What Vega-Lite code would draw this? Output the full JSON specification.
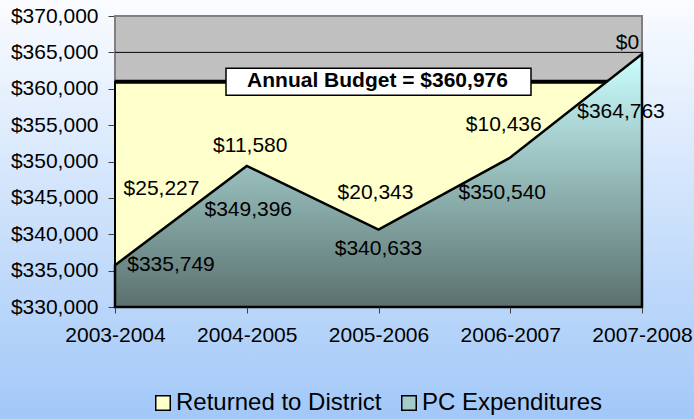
{
  "$schema": "https://vega.github.io/schema/vega-lite/v6.json",
  "width": 694,
  "height": 419,
  "autosize": {"type": "none"},
  "padding": 0,
  "datasets": {
    "main": [
      {"year": "2003-2004", "pc": 335749, "returned": 25227},
      {"year": "2004-2005", "pc": 349396, "returned": 11580},
      {"year": "2005-2006", "pc": 340633, "returned": 20343},
      {"year": "2006-2007", "pc": 350540, "returned": 10436},
      {"year": "2007-2008", "pc": 364763, "returned": 0}
    ],
    "frame": [{"from": "2003-2004", "to": "2007-2008", "lo": 330000, "hi": 370000}],
    "budget": [{"series": "Returned to District", "from": "2003-2004", "to": "2007-2008", "at": "2005-2006", "lo": 330000, "budget": 360976, "label": "Annual Budget = $360,976"}],
    "grid": [
      {"g": 335000, "from": "2003-2004", "to": "2007-2008"},
      {"g": 340000, "from": "2003-2004", "to": "2007-2008"},
      {"g": 345000, "from": "2003-2004", "to": "2007-2008"},
      {"g": 350000, "from": "2003-2004", "to": "2007-2008"},
      {"g": 355000, "from": "2003-2004", "to": "2007-2008"},
      {"g": 360000, "from": "2003-2004", "to": "2007-2008"},
      {"g": 365000, "from": "2003-2004", "to": "2007-2008"}
    ]
  },
  "config": {
    "view": {
      "stroke": null,
      "fill": {
        "gradient": "linear", "x1": 0, "y1": 0, "x2": 0, "y2": 1,
        "stops": [{"offset": 0, "color": "#FAFCFF"}, {"offset": 1, "color": "#A2C8F8"}]
      }
    },
    "font": "Liberation Sans",
    "text": {"font": "Liberation Sans", "fontSize": 21, "color": "#000000"}
  },
  "layer": [
    {
      "data": {"name": "frame"},
      "mark": {"type": "rect", "fill": "#C0C0C0", "stroke": "#808080", "strokeWidth": 2},
      "encoding": {
        "x": {
          "field": "from", "type": "ordinal",
          "scale": {"type": "point", "domain": ["2003-2004", "2004-2005", "2005-2006", "2006-2007", "2007-2008"], "range": [115, 642], "padding": 0},
          "axis": {"orient": "bottom", "offset": -112, "domain": false, "tickSize": 6, "tickColor": "#404040", "labelPadding": 11, "labelAngle": 0, "labelFontSize": 21, "labelFont": "Liberation Sans", "labelColor": "#000000", "title": null}
        },
        "x2": {"field": "to"},
        "y": {
          "field": "lo", "type": "quantitative",
          "scale": {"domain": [330000, 370000], "range": [307, 16], "nice": false, "zero": false},
          "axis": {"orient": "left", "offset": -115, "values": [330000, 335000, 340000, 345000, 350000, 355000, 360000, 365000, 370000], "format": "$,d", "domain": false, "grid": false, "tickSize": 7, "tickColor": "#404040", "labelPadding": 10, "labelFontSize": 21, "labelFont": "Liberation Sans", "labelColor": "#000000", "labelFlush": false, "labelOverlap": false, "title": null}
        },
        "y2": {"field": "hi"}
      }
    },
    {
      "data": {"name": "grid"},
      "mark": {"type": "rule", "color": "#000000", "strokeWidth": 1},
      "encoding": {
        "x": {"field": "from", "type": "ordinal"},
        "x2": {"field": "to"},
        "y": {"field": "g", "type": "quantitative"}
      }
    },
    {
      "data": {"name": "budget"},
      "mark": {"type": "rect", "stroke": "#000000", "strokeWidth": 2},
      "encoding": {
        "x": {"field": "from", "type": "ordinal"},
        "x2": {"field": "to"},
        "y": {"field": "lo", "type": "quantitative"},
        "y2": {"field": "budget"},
        "fill": {
          "field": "series", "type": "nominal",
          "scale": {"domain": ["Returned to District", "PC Expenditures"], "range": ["#FFFFCC", "#A3CBCA"]},
          "legend": {
            "orient": "none", "legendX": 151, "legendY": 391, "direction": "horizontal", "title": null,
            "symbolType": "square", "symbolSize": 210, "symbolStrokeColor": "#000000", "symbolStrokeWidth": 1.5, "symbolOpacity": 1,
            "labelFontSize": 24, "labelFont": "Liberation Sans", "labelColor": "#000000", "labelOffset": 1, "labelLimit": 0,
            "columnPadding": 15, "padding": 0
          }
        }
      }
    },
    {
      "data": {"name": "budget"},
      "mark": {"type": "rule", "color": "#000000", "strokeWidth": 4},
      "encoding": {
        "x": {"field": "from", "type": "ordinal"},
        "x2": {"field": "to"},
        "y": {"field": "budget", "type": "quantitative"}
      }
    },
    {
      "data": {"name": "main"},
      "transform": [{"calculate": "330000", "as": "base"}],
      "mark": {
        "type": "area", "interpolate": "linear", "stroke": "#000000", "strokeWidth": 2.5, "opacity": 1,
        "fill": {
          "gradient": "linear", "x1": 0, "y1": 0, "x2": 0, "y2": 1,
          "stops": [{"offset": 0, "color": "#CCFFFF"}, {"offset": 1, "color": "#5A716E"}]
        }
      },
      "encoding": {
        "x": {"field": "year", "type": "ordinal"},
        "y": {"field": "pc", "type": "quantitative"},
        "y2": {"field": "base"}
      }
    },
    {
      "data": {"name": "budget"},
      "mark": {"type": "point", "shape": "M-1,-0.0885H1V0.0885H-1Z", "size": 93025, "filled": true, "fill": "#FFFFFF", "fillOpacity": 1, "opacity": 1, "stroke": "#000000", "strokeWidth": 1.5},
      "encoding": {
        "x": {"field": "at", "type": "ordinal"},
        "y": {"field": "budget", "type": "quantitative"}
      }
    },
    {
      "data": {"name": "budget"},
      "mark": {"type": "text", "fontWeight": "bold", "fontSize": 21, "dx": -1, "dy": -1},
      "encoding": {
        "x": {"field": "at", "type": "ordinal"},
        "y": {"field": "budget", "type": "quantitative"},
        "text": {"field": "label", "type": "nominal"}
      }
    },
    {"data": {"name": "main"}, "transform": [{"filter": "datum.year === '2003-2004'"}], "mark": {"type": "text", "dx": 56, "dy": 0},
     "encoding": {"x": {"field": "year", "type": "ordinal"}, "y": {"field": "pc", "type": "quantitative"}, "text": {"field": "pc", "type": "quantitative", "format": "$,d"}}},
    {"data": {"name": "main"}, "transform": [{"filter": "datum.year === '2004-2005'"}], "mark": {"type": "text", "dx": 1.5, "dy": 44},
     "encoding": {"x": {"field": "year", "type": "ordinal"}, "y": {"field": "pc", "type": "quantitative"}, "text": {"field": "pc", "type": "quantitative", "format": "$,d"}}},
    {"data": {"name": "main"}, "transform": [{"filter": "datum.year === '2005-2006'"}], "mark": {"type": "text", "dx": 0, "dy": 19},
     "encoding": {"x": {"field": "year", "type": "ordinal"}, "y": {"field": "pc", "type": "quantitative"}, "text": {"field": "pc", "type": "quantitative", "format": "$,d"}}},
    {"data": {"name": "main"}, "transform": [{"filter": "datum.year === '2006-2007'"}], "mark": {"type": "text", "dx": -8, "dy": 35.5},
     "encoding": {"x": {"field": "year", "type": "ordinal"}, "y": {"field": "pc", "type": "quantitative"}, "text": {"field": "pc", "type": "quantitative", "format": "$,d"}}},
    {"data": {"name": "main"}, "transform": [{"filter": "datum.year === '2007-2008'"}], "mark": {"type": "text", "dx": -21, "dy": 58},
     "encoding": {"x": {"field": "year", "type": "ordinal"}, "y": {"field": "pc", "type": "quantitative"}, "text": {"field": "pc", "type": "quantitative", "format": "$,d"}}},
    {"data": {"name": "main"}, "transform": [{"filter": "datum.year === '2003-2004'"}], "mark": {"type": "text", "dx": 46.5, "dy": -76},
     "encoding": {"x": {"field": "year", "type": "ordinal"}, "y": {"field": "pc", "type": "quantitative"}, "text": {"field": "returned", "type": "quantitative", "format": "$,d"}}},
    {"data": {"name": "main"}, "transform": [{"filter": "datum.year === '2004-2005'"}], "mark": {"type": "text", "dx": 3.5, "dy": -20},
     "encoding": {"x": {"field": "year", "type": "ordinal"}, "y": {"field": "pc", "type": "quantitative"}, "text": {"field": "returned", "type": "quantitative", "format": "$,d"}}},
    {"data": {"name": "main"}, "transform": [{"filter": "datum.year === '2005-2006'"}], "mark": {"type": "text", "dx": -3, "dy": -36.5},
     "encoding": {"x": {"field": "year", "type": "ordinal"}, "y": {"field": "pc", "type": "quantitative"}, "text": {"field": "returned", "type": "quantitative", "format": "$,d"}}},
    {"data": {"name": "main"}, "transform": [{"filter": "datum.year === '2006-2007'"}], "mark": {"type": "text", "dx": -6.5, "dy": -32.5},
     "encoding": {"x": {"field": "year", "type": "ordinal"}, "y": {"field": "pc", "type": "quantitative"}, "text": {"field": "returned", "type": "quantitative", "format": "$,d"}}},
    {"data": {"name": "main"}, "transform": [{"filter": "datum.year === '2007-2008'"}], "mark": {"type": "text", "dx": -14.5, "dy": -11},
     "encoding": {"x": {"field": "year", "type": "ordinal"}, "y": {"field": "pc", "type": "quantitative"}, "text": {"field": "returned", "type": "quantitative", "format": "$,d"}}}
  ]
}
